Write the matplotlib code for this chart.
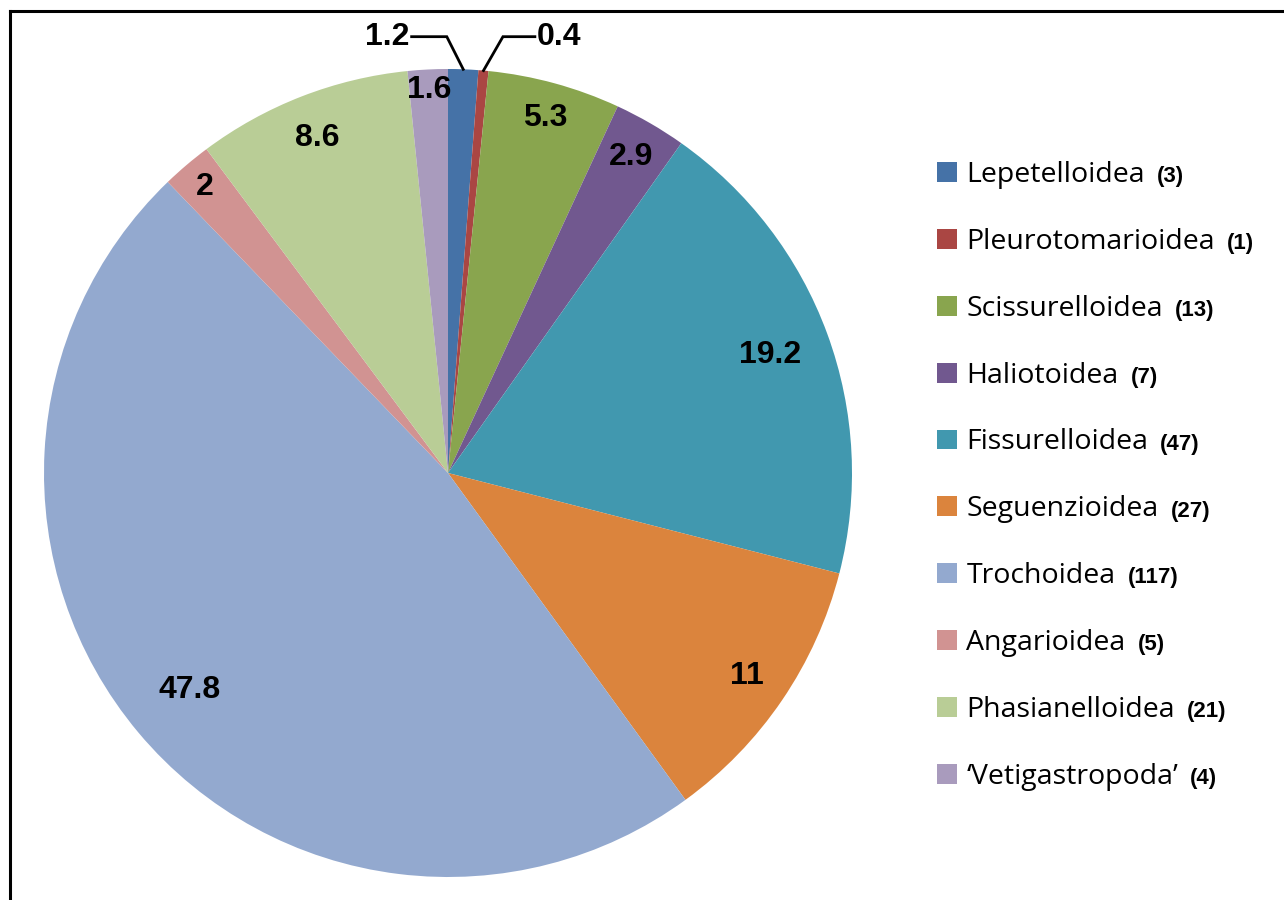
import numpy as np
import matplotlib
matplotlib.use("Agg")
import matplotlib.pyplot as plt
from matplotlib.lines import Line2D
from matplotlib.patches import Patch

names = ["Lepetelloidea", "Pleurotomarioidea", "Scissurelloidea", "Haliotoidea",
         "Fissurelloidea", "Seguenzioidea", "Trochoidea", "Angarioidea",
         "Phasianelloidea", "\u2018Vetigastropoda\u2019"]
counts = [3, 1, 13, 7, 47, 27, 117, 5, 21, 4]
percent = [1.2, 0.4, 5.3, 2.9, 19.2, 11, 47.8, 2, 8.6, 1.6]
pct_labels = ["1.2", "0.4", "5.3", "2.9", "19.2", "11", "47.8", "2", "8.6", "1.6"]
colors = ["#4572A7", "#AA4643", "#89A54E", "#71588F", "#4198AF",
          "#DB843D", "#93A9CF", "#D19392", "#B9CD96", "#A99BBD"]

W, H = 1284, 900
fig = plt.figure(figsize=(W / 100, H / 100), dpi=100)
cx, cy, R = 448, 473, 404
ax = fig.add_axes([(cx - R) / W, (H - cy - R) / H, 2 * R / W, 2 * R / H])
wedges, _ = ax.pie(percent, colors=colors, startangle=90, counterclock=False,
                   radius=1.0, wedgeprops=dict(linewidth=0))
ax.set_xlim(-1, 1)
ax.set_ylim(-1, 1)
ax.set_aspect("equal")
ax.axis("off")

label_font = dict(family="Liberation Sans", weight="bold", fontsize=23, color="black")
inside_r = [None, None, 0.91, 0.905, 0.85, 0.895, 0.835, 0.93, 0.89, 0.95]
for i, w in enumerate(wedges):
    mid = np.deg2rad((w.theta1 + w.theta2) / 2)
    if inside_r[i] is not None:
        r = inside_r[i]
        ax.text(r * np.cos(mid), r * np.sin(mid), pct_labels[i], ha="center", va="center",
                **label_font)

# leader lines for the two small slices
for i, (kx, tx, ha) in zip([0, 1], [(-0.003, -0.09, "right"), (0.136, 0.215, "left")]):
    w = wedges[i]
    mid = np.deg2rad((w.theta1 + w.theta2) / 2)
    x0, y0 = np.cos(mid), np.sin(mid)
    ky = 1.08
    ax.plot([x0, kx, tx], [y0, ky, ky], color="black", lw=2.0, clip_on=False,
            solid_joinstyle="miter")
    ax.text(tx + (-0.005 if ha == "right" else 0.005), ky, pct_labels[i], ha=ha,
            va="center", **label_font)

handles = [Patch(facecolor=c, edgecolor="none") for c in colors]
leg = fig.legend(handles, names, loc="upper left", bbox_to_anchor=(937 / W, 1 - 161 / H),
                 frameon=False, prop=dict(family="Open Sans", size=20.5),
                 handlelength=0.7, handleheight=0.7, handletextpad=0.33,
                 labelspacing=1.365, borderpad=0, borderaxespad=0)

fig.canvas.draw()
renderer = fig.canvas.get_renderer()
for t, n in zip(leg.get_texts(), counts):
    bb = t.get_window_extent(renderer)
    fig.text((bb.x1 + 12) / W, (bb.y0 + bb.y1) / 2 / H - 0.002, f"({n})",
             ha="left", va="center", family="Liberation Sans", weight="bold", fontsize=16)

# frame lines (left and top)
fig.add_artist(Line2D([9.5 / W, 9.5 / W], [0, 1 - 11 / H], transform=fig.transFigure,
                      color="black", lw=2.2, solid_capstyle="projecting"))
fig.add_artist(Line2D([9.5 / W, 1], [1 - 11 / H, 1 - 11 / H], transform=fig.transFigure,
                      color="black", lw=2.2, solid_capstyle="projecting"))

fig.savefig("out.png", dpi=100, facecolor="white")
